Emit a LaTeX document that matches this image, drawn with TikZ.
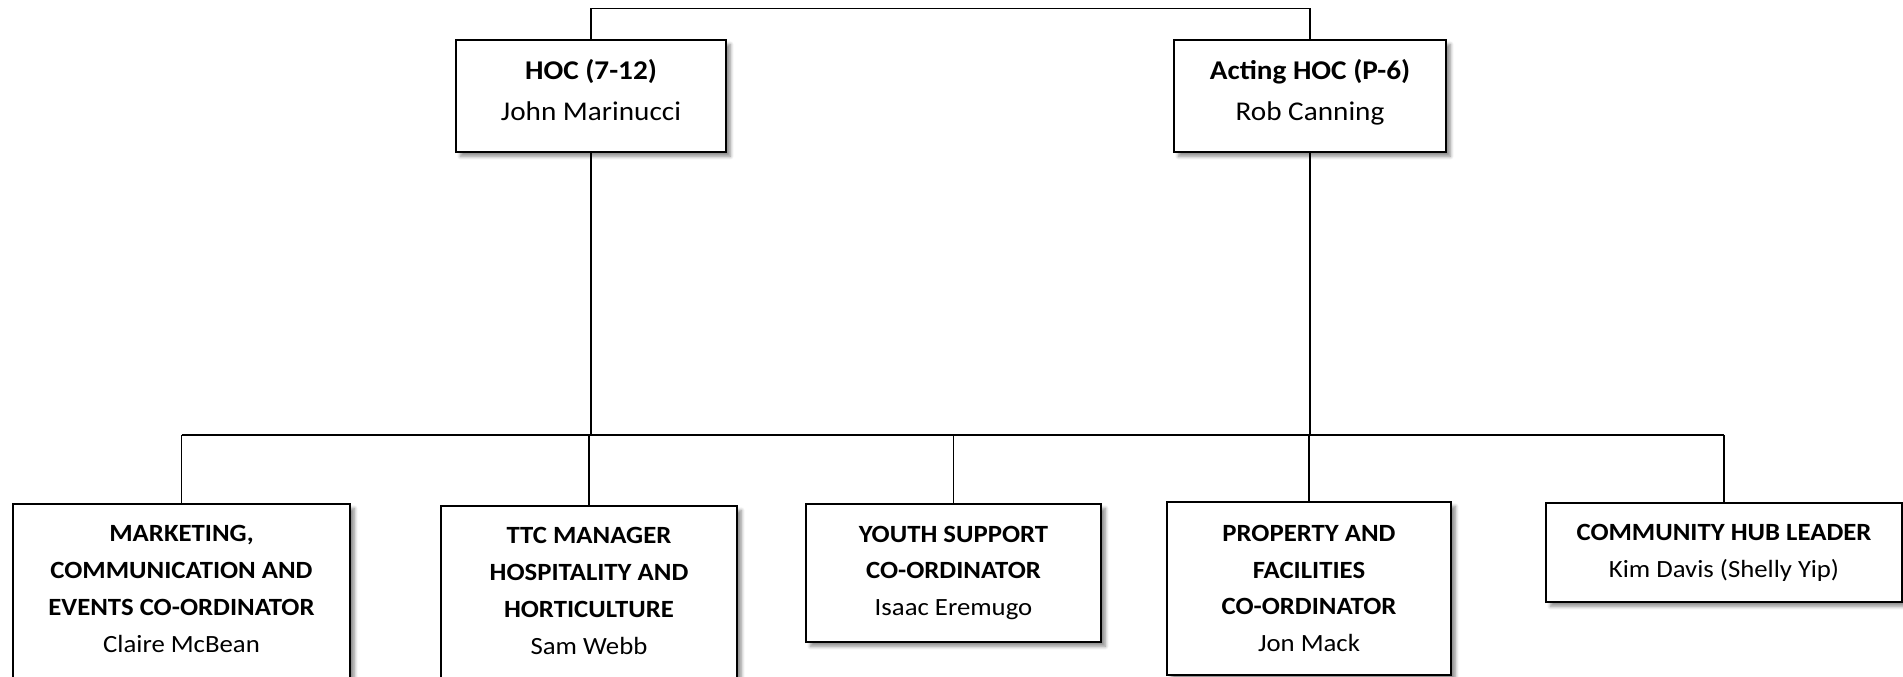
\documentclass[tikz,border=0pt]{standalone}
\usepackage{fontspec}
\setmainfont{Carlito}[FakeStretch=1.08]
\usepackage{tikz}
\usetikzlibrary{shadows.blur}

\tikzset{
 post/.style = {draw, fill=white, line width=0.8pt, align=center,
  inner sep=2pt, font=\fontsize{14.1}{21}\selectfont,
  blur shadow={shadow xshift=2.5pt, shadow yshift=-2.5pt,
  shadow blur steps=6, shadow opacity=45}},
 head/.style = {post, text depth=0.24cm, font=\fontsize{15.4}{23.7}\selectfont},
 link/.style = {line width=0.8pt}
}

\begin{document}
\begin{tikzpicture}
\useasboundingbox (0,0) rectangle (38.06,-13.54);
\clip (0,0) rectangle (38.06,-13.54);

\node[head, minimum width=5.4cm, minimum height=2.24cm] (hoc) at (11.82,-1.92)
 {\textbf{HOC (7-12)}\\John Marinucci};
\node[head, minimum width=5.44cm, minimum height=2.24cm] (acting) at (26.2,-1.92)
 {\textbf{Acting HOC (P-6)}\\Rob Canning};

\node[post, text depth=0.2cm, minimum width=6.74cm, minimum height=3.6cm] (mkt) at (3.63,-11.88)
 {\textbf{MARKETING,}\\\textbf{COMMUNICATION AND}\\\textbf{EVENTS CO-ORDINATOR}\\Claire McBean};
\node[post, text depth=0.2cm, minimum width=5.92cm, minimum height=3.6cm] (ttc) at (11.78,-11.92)
 {\textbf{TTC MANAGER}\\\textbf{HOSPITALITY AND}\\\textbf{HORTICULTURE}\\Sam Webb};
\node[post, minimum width=5.9cm, minimum height=2.76cm] (youth) at (19.07,-11.46)
 {\textbf{YOUTH SUPPORT}\\\textbf{CO-ORDINATOR}\\Isaac Eremugo};
\node[post, minimum width=5.68cm, minimum height=3.46cm] (prop) at (26.18,-11.77)
 {\textbf{PROPERTY AND}\\\textbf{FACILITIES}\\\textbf{CO-ORDINATOR}\\Jon Mack};
\node[post, minimum width=7.12cm, minimum height=1.98cm] (hub) at (34.48,-11.05)
 {\textbf{COMMUNITY HUB LEADER}\\Kim Davis (Shelly Yip)};

\coordinate (bus) at (0,-8.7);

\draw[link] (hoc.north) -- ++(0,0.62) -| (acting.north);
\draw[link] (hoc.south) -- (hoc |- bus);
\draw[link] (acting.south) -- (acting |- bus);
\draw[link] (mkt |- bus) -- (hub |- bus);
\foreach \n in {mkt,ttc,youth,prop,hub}
 \draw[link] (\n |- bus) -- (\n.north);
\end{tikzpicture}
\end{document}
